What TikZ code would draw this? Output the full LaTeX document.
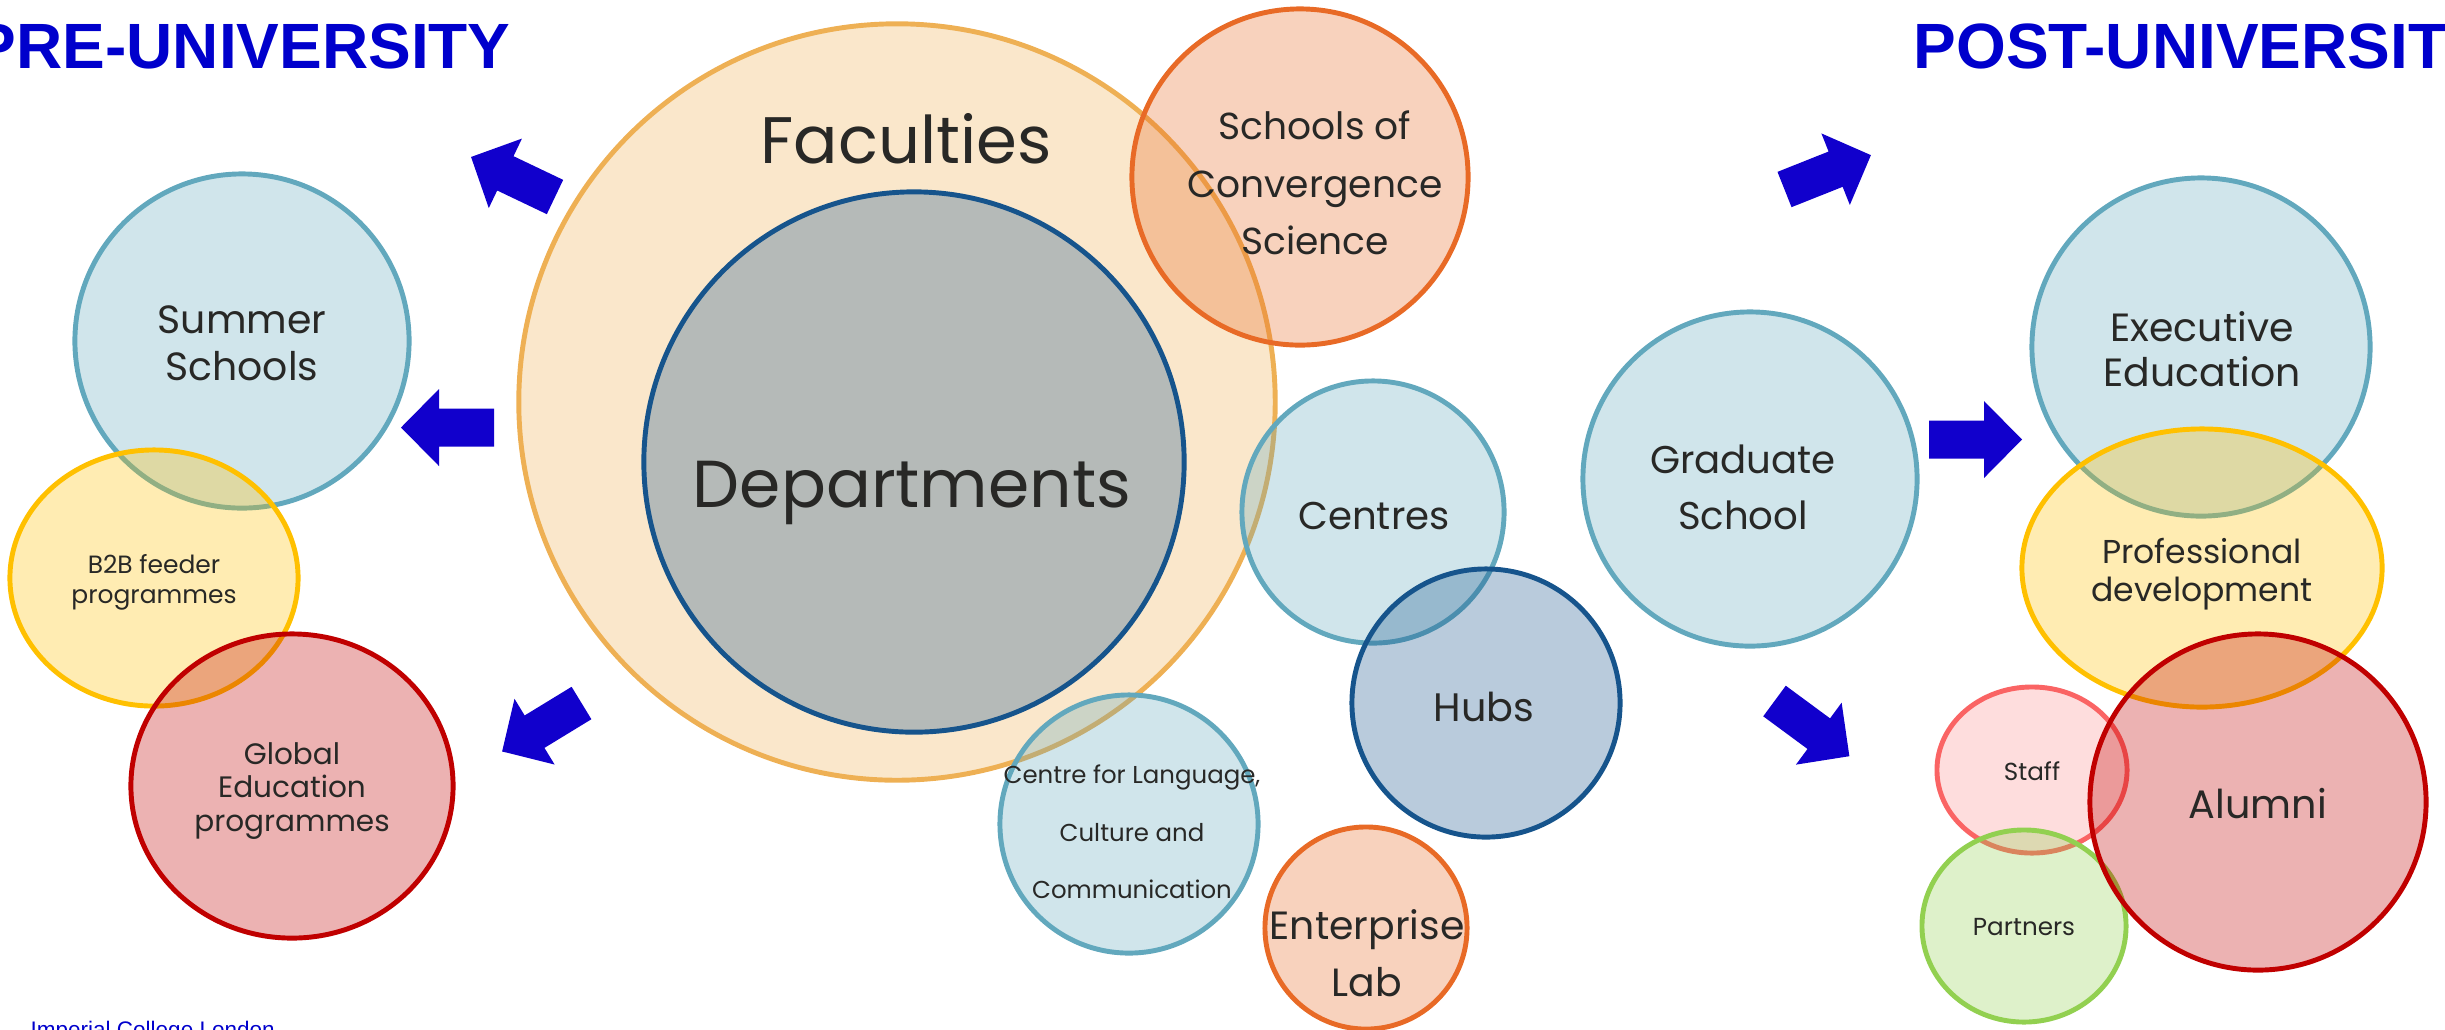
\documentclass[tikz,border=0pt]{standalone}
\usepackage{fontspec}
\setmainfont{Poppins}
\newfontfamily\arialfont{Liberation Sans}
\usetikzlibrary{shapes.geometric}
\definecolor{titleblue}{RGB}{0,0,204}
\definecolor{arrowblue}{RGB}{17,0,204}
\definecolor{txtgray}{RGB}{40,40,38}
\definecolor{cfac}{RGB}{238,176,84}
\definecolor{cdep}{RGB}{22,84,140}
\definecolor{corange}{RGB}{232,106,38}
\definecolor{cteal}{RGB}{98,168,189}
\definecolor{cyellow}{RGB}{255,192,0}
\definecolor{cred}{RGB}{192,0,0}
\definecolor{cpink}{RGB}{250,100,100}
\definecolor{cgreen}{RGB}{146,208,80}
\tikzset{
  bub/.style={circle, inner sep=0pt, line width=1.4pt, draw=#1, fill=#1, fill opacity=0.3, draw opacity=1, minimum size=0pt},
  ell/.style={ellipse, inner sep=0pt, line width=1.4pt, draw=#1, fill=#1, fill opacity=0.3, draw opacity=1},
  lbl/.style={inner sep=0pt, align=center, text=txtgray},
  fatarrow/.pic={\fill[arrowblue] (0,-19) -- (55,-19) -- (55,-38.5) -- (93,0) -- (55,38.5) -- (55,19) -- (0,19) -- cycle;}
}
\newcommand{\fsz}[2]{\fontsize{#1}{#2}\selectfont}
\begin{document}
\begin{tikzpicture}[x=0.01cm, y=-0.01cm]
\useasboundingbox (0,0) rectangle (2445,1029);
% centre cluster
\node[bub=cfac, minimum size=7.56cm] (fac) at (897,402) {};
\node[bub=cdep, minimum size=5.40cm] (dep) at (914,462) {};
\node[bub=corange, minimum size=3.36cm] (scs) at (1300,177) {};
\node[bub=cteal, minimum size=2.62cm] (cen) at (1373,512) {};
\node[bub=cdep, minimum size=2.68cm] (hub) at (1486,703) {};
\node[bub=cteal, minimum size=2.58cm] (clc) at (1129,824) {};
\node[bub=corange, minimum size=2.02cm] (ent) at (1366,928) {};
% left cluster
\node[bub=cteal, minimum size=3.34cm] (sum) at (242,341) {};
\node[ell=cyellow, minimum width=2.88cm, minimum height=2.56cm] (b2b) at (154,578) {};
\node[ell=cred, minimum width=3.22cm, minimum height=3.04cm] (glo) at (292,786) {};
% right cluster
\node[bub=cteal, minimum size=3.34cm] (gra) at (1750,479) {};
\node[bub=cteal, minimum size=3.38cm] (exe) at (2201,347) {};
\node[ell=cyellow, minimum width=3.60cm, minimum height=2.78cm] (pro) at (2202,568) {};
\node[ell=cpink, minimum width=1.90cm, minimum height=1.66cm, fill opacity=0.22] (sta) at (2032,770) {};
\node[ell=cgreen, minimum width=2.04cm, minimum height=1.92cm] (par) at (2024,926) {};
\node[bub=cred, minimum size=3.36cm] (alu) at (2258,802) {};
% labels
\node[lbl, font=\fsz{18.7}{23}] (facT) at (906,139) {Faculties};
\node[lbl, font=\fsz{18.9}{23}] (depT) at (912,493) {Departments};
\node[lbl, font=\fsz{10.7}{16.4}] (scsT) at (1315,183) {Schools of\\Convergence\\Science};
\node[lbl, font=\fsz{11}{16}] (cenT) at (1374,516) {Centres};
\node[lbl, font=\fsz{11.3}{16}] (hubT) at (1484,707) {Hubs};
\node[lbl, font=\fsz{6.95}{16.4}] (clcT) at (1132,832) {Centre for Language,\\Culture and\\Communication};
\node[lbl, font=\fsz{11.2}{16.2}] (entT) at (1367,953) {Enterprise\\Lab};
\node[lbl, font=\fsz{11.2}{13.3}] (sumT) at (242,343) {Summer\\Schools};
\node[lbl, font=\fsz{7.1}{8.5}] (b2bT) at (154,582) {B2B feeder\\programmes};
\node[lbl, font=\fsz{8.4}{9.5}] (gloT) at (292,791) {Global\\Education\\programmes};
\node[lbl, font=\fsz{11}{16}] (graT) at (1743,487) {Graduate\\School};
\node[lbl, font=\fsz{11.2}{12.8}] (exeT) at (2202,349) {Executive\\Education};
\node[lbl, font=\fsz{9.4}{11}] (proT) at (2202,574) {Professional\\development};
\node[lbl, font=\fsz{11.3}{14}] (aluT) at (2258,804) {Alumni};
\node[lbl, font=\fsz{7}{9}] (staT) at (2032,771) {Staff};
\node[lbl, font=\fsz{7}{9}] (parT) at (2024,927) {Partners};
% arrows
\pic[rotate=154.5] at (555,197) {fatarrow};
\pic[rotate=180] at (494,427.5) {fatarrow};
\pic[rotate=211.4] at (581.5,703) {fatarrow};
\pic[rotate=21.7] at (1784.5,189.5) {fatarrow};
\pic[rotate=0] at (1929,439.5) {fatarrow};
\pic[rotate=-36.4] at (1774.5,701) {fatarrow};
% titles
\node[anchor=base west, inner sep=0pt, text=titleblue, font=\arialfont\bfseries\fsz{18.2}{20}] (pre) at (-27,68) {PRE-UNIVERSITY};
\node[anchor=base west, inner sep=0pt, text=titleblue, font=\arialfont\bfseries\fsz{18.2}{20}] (post) at (1913,68) {POST-UNIVERSITY};
\node[anchor=base west, inner sep=0pt, text=titleblue, font=\arialfont\fsz{6.4}{7}] (icl) at (30,1037) {Imperial College London};
\end{tikzpicture}
\end{document}
